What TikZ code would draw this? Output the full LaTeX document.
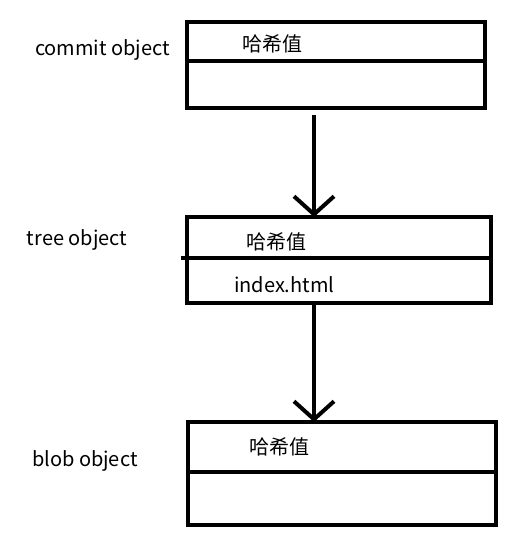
\documentclass[tikz,border=0pt]{standalone}
\usepackage{fontspec}
\setmainfont{Noto Sans CJK SC}
\usetikzlibrary{arrows.meta, calc}

\begin{document}
\begin{tikzpicture}[x=1pt, y=-1pt, line width=4pt, >={Straight Barb[length=18pt, width=40pt]},
  every node/.style={font=\fontsize{20}{23}\selectfont, inner sep=0pt},
  objbox/.style={draw, line width=4pt, outer sep=0pt, anchor=north west}]
\useasboundingbox (0,0) rectangle (530,543);

% boxes
\node (commit)[objbox, minimum width=298pt, minimum height=86pt] at (187,22) {};
\node (tree)[objbox, minimum width=304pt, minimum height=86pt] at (187,217) {};
\node (blob)[objbox, minimum width=308pt, minimum height=103pt] at (188,422) {};

\draw (commit.west |- 0,61) -- (commit.east |- 0,61);
\draw ($(tree.west |- 0,258) - (6,0)$) -- (tree.east |- 0,258);
\draw (blob.west |- 0,472) -- (blob.east |- 0,472);

% texts
\node (commitname)[anchor=west] at (33,50) {commit object};
\node (treename)[anchor=west] at (25,240) {tree object};
\node (blobname)[anchor=west] at (30,461) {blob object};

\node (h1)[anchor=west] at (240,44) {哈希值};
\node (h2)[anchor=west] at (244,242) {哈希值};
\node (file)[anchor=west] at (232,285) {index.html};
\node (h3)[anchor=west] at (247,447) {哈希值};

% arrows
\coordinate (a1) at (314,115);
\draw[->] (a1) -- (a1 |- tree.north);
\draw[->] (a1 |- tree.south) -- (a1 |- blob.north);
\end{tikzpicture}
\end{document}
